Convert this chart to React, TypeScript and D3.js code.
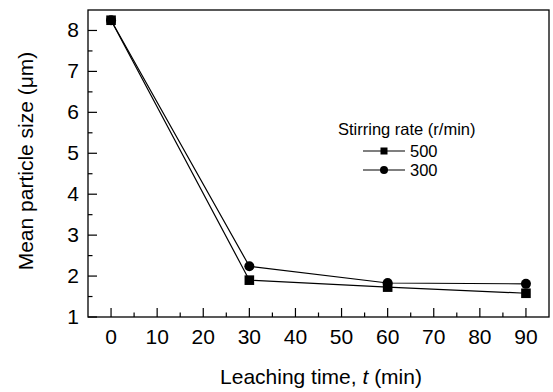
import React from "react";
import * as d3 from "d3";

const times = [0, 30, 60, 90];
const size500 = [8.25, 1.9, 1.73, 1.58];
const size300 = [8.25, 2.24, 1.83, 1.81];
const xTicks = [0, 10, 20, 30, 40, 50, 60, 70, 80, 90];
const yTicks = [1, 2, 3, 4, 5, 6, 7, 8];

const W = 553;
const H = 392;
const FONT = "'Liberation Sans', Arial, Helvetica, sans-serif";

export default function App() {
  const left = 88, right = 549, top = 10, bottom = 317;
  const x = d3.scaleLinear().domain([-5, 95]).range([left, right]);
  const y = d3.scaleLinear().domain([1, 8.5]).range([bottom, top]);

  const line = d3.line<number>()
    .x((_, i) => x(times[i]))
    .y(d => y(d));

  const xMinor = d3.range(5, 95, 10);
  const yMinor = d3.range(1.5, 8.5, 1);

  return (
    <svg width={W} height={H} style={{ position: "absolute", left: 0, top: 0, background: "#fff" }} fontFamily={FONT}>
      <rect x={left} y={top} width={right - left} height={bottom - top} fill="none" stroke="#000" strokeWidth={1.3} />

      {xTicks.map(t => (
        <g key={"xt" + t}>
          <line x1={x(t)} x2={x(t)} y1={bottom} y2={bottom - 9} stroke="#000" strokeWidth={1.2} />
          <text x={x(t)} y={344} textAnchor="middle" fontSize={21}>{t}</text>
        </g>
      ))}
      {xMinor.map(t => (
        <line key={"xm" + t} x1={x(t)} x2={x(t)} y1={bottom} y2={bottom - 4.5} stroke="#000" strokeWidth={1.2} />
      ))}
      {yTicks.map(t => (
        <g key={"yt" + t}>
          <line x1={left} x2={left + 9} y1={y(t)} y2={y(t)} stroke="#000" strokeWidth={1.2} />
          <text x={79} y={y(t) + 7} textAnchor="end" fontSize={21}>{t}</text>
        </g>
      ))}
      {yMinor.map(t => (
        <line key={"ym" + t} x1={left} x2={left + 4.5} y1={y(t)} y2={y(t)} stroke="#000" strokeWidth={1.2} />
      ))}

      <text x={321} y={384} textAnchor="middle" fontSize={21}>
        Leaching time, <tspan fontStyle="italic">t</tspan> (min)
      </text>
      <text transform={`translate(33,161) rotate(-90)`} textAnchor="middle" fontSize={21}>
        Mean particle size (μm)
      </text>

      <path d={line(size300) || ""} fill="none" stroke="#000" strokeWidth={1.2} />
      <path d={line(size500) || ""} fill="none" stroke="#000" strokeWidth={1.2} />
      {size300.map((v, i) => (
        <circle key={"c" + i} cx={x(times[i])} cy={y(v)} r={5} fill="#000" />
      ))}
      {size500.map((v, i) => (
        <rect key={"s" + i} x={x(times[i]) - 4.8} y={y(v) - 4.8} width={9.6} height={9.6} fill="#000" />
      ))}

      <text x={338} y={135} fontSize={16.5}>Stirring rate (r/min)</text>
      <line x1={363} x2={405} y1={151} y2={151} stroke="#000" strokeWidth={1.2} />
      <rect x={380.5} y={147.5} width={7} height={7} fill="#000" />
      <text x={410} y={157} fontSize={16.5}>500</text>
      <line x1={363} x2={405} y1={170} y2={170} stroke="#000" strokeWidth={1.2} />
      <circle cx={384} cy={170} r={4} fill="#000" />
      <text x={410} y={176} fontSize={16.5}>300</text>
    </svg>
  );
}
